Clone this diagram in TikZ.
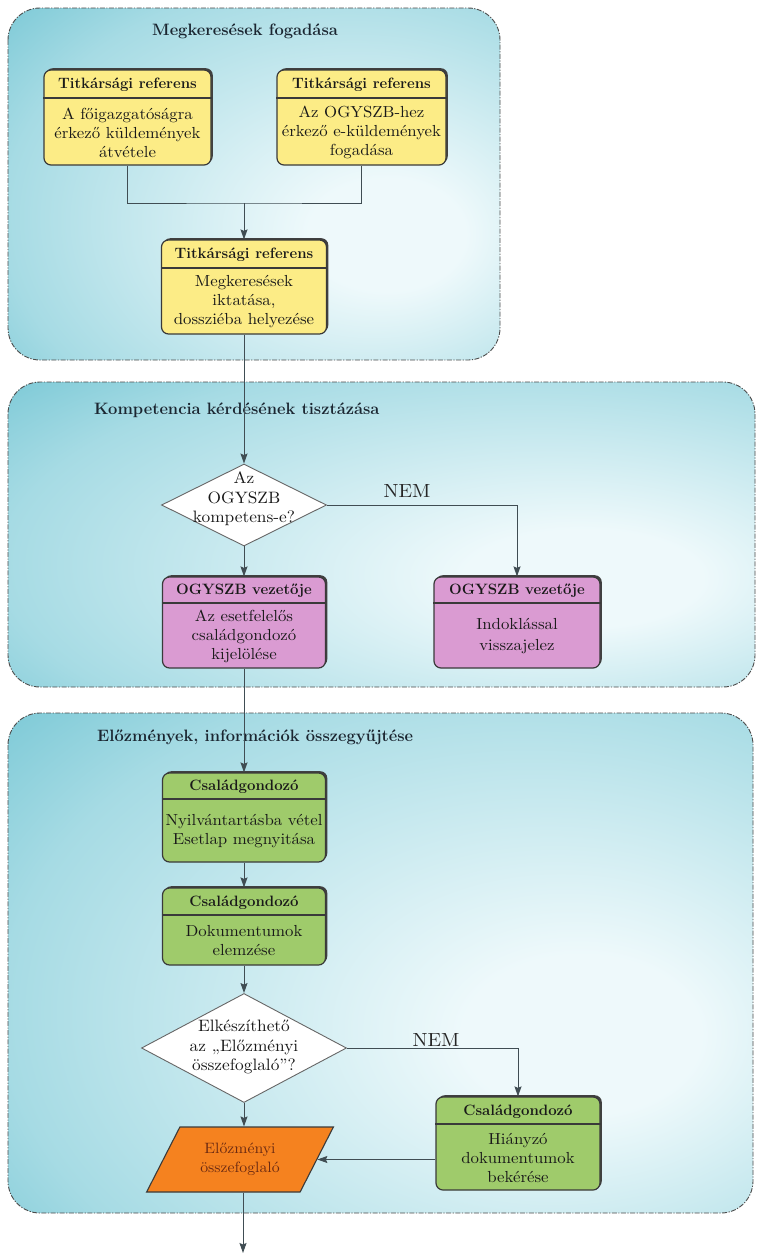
\documentclass[tikz,border=0pt]{standalone}
\usepackage{fontspec}
\newfontfamily\bodyfont{lmroman10-regular.otf}[FakeStretch=1.05]
\usetikzlibrary{shapes.geometric,shadows,arrows.meta,calc}
\definecolor{secin}{HTML}{EEF9FB}
\definecolor{secmid}{HTML}{A6DBE4}
\definecolor{secout}{HTML}{57B9CA}
\definecolor{yel}{HTML}{FCEC86}
\definecolor{pnk}{HTML}{DA9BD2}
\definecolor{grn}{HTML}{9FCB6B}
\definecolor{org}{HTML}{F5821F}
\definecolor{edge}{HTML}{3A3A3A}
\definecolor{conn}{HTML}{404D53}
\definecolor{ttl}{HTML}{1B2631}
\definecolor{orgtxt}{HTML}{6B2A12}
\pgfdeclareradialshading{secshade}{\pgfpoint{15bp}{-8bp}}{color(0bp)=(secin); color(8bp)=(secin); color(34bp)=(secmid); color(52bp)=(secout); color(80bp)=(secout)}
\newcommand\pbox[9]{%
  \pgfmathsetmacro\bxh{#6-#4}%
  \node[pboxsty, fill=#7, minimum width=#3pt, minimum height=\bxh pt] (#1) at (#2,{(#4+#6)/2}) {};
  \draw[divline] (#1.west |- 0,#5) -- (#1.east |- 0,#5);
  \node[hdr] (#1-h) at (#2,{(#4+#5)/2+1}) {#8};
  \node[bdy] (#1-b) at (#2,{(#5+#6)/2+1}) {#9};
}
\begin{document}
\begin{tikzpicture}[x=1pt,y=-1pt,
  section/.style={rounded corners=32pt, shading=secshade, draw=black!70, line width=0.9pt,
    dash pattern=on 5pt off 1.5pt on 1.2pt off 1.5pt},
  sectitle/.style={font=\bfseries\fontsize{16.5}{19}\selectfont, text=ttl, inner sep=0pt},
  pboxsty/.style={draw=edge, line width=1.2pt, rounded corners=7pt, inner sep=0pt,
    general shadow={fill=black!75, shadow xshift=1.8pt, shadow yshift=1.8pt}},
  divline/.style={draw=edge, line width=1.1pt},
  hdr/.style={font=\bfseries\fontsize{15}{17}\selectfont, text=black!90, inner sep=0pt},
  bdy/.style={font=\bodyfont\fontsize{16}{19}\selectfont, text=black!90, align=center, inner sep=0pt},
  diatxt/.style={bdy, font=\bodyfont\fontsize{16.5}{19.5}\selectfont},
  dia/.style={shape=diamond, draw=black!60, fill=white, line width=0.9pt, inner sep=0pt},
  para/.style={shape=trapezium, trapezium left angle=56, trapezium right angle=124,
    trapezium stretches=true, draw=edge, line width=1.1pt, fill=org, inner sep=0pt,
    font=\bodyfont\fontsize{15}{19}\selectfont, text=orgtxt, align=center},
  nemsty/.style={font=\bodyfont\fontsize{19}{21}\selectfont, text=black!85, inner sep=0pt},
  conn/.style={draw=conn, line width=1pt},
  arr/.style={conn, -{Stealth[length=10pt,width=7pt,inset=1.5pt]}}
]
\fill[white] (0,0) rectangle (759,1254);
\useasboundingbox (0,0) rectangle (759,1254);

% sections
\shadedraw[section] (8,8) rectangle (500,360);
\shadedraw[section] (8,382) rectangle (755,687);
\shadedraw[section] (8,713) rectangle (753,1213);

\node[sectitle] (t1) at (245,31) {Megkeresések fogadása};
\node[sectitle, anchor=west] (t2) at (94,410) {Kompetencia kérdésének tisztázása};
\node[sectitle, anchor=west] (t3) at (97,737) {Előzmények, információk összegyűjtése};

% section 1
\pbox{b1}{127.5}{167}{70}{98}{165}{yel}{Titkársági referens}{A főigazgatóságra\\érkező küldemények\\átvétele}
\pbox{b2}{361.5}{169}{70}{98}{165}{yel}{Titkársági referens}{Az OGYSZB-hez\\érkező e-küldemények\\fogadása}
\pbox{b3}{244}{165}{240}{268}{334}{yel}{Titkársági referens}{Megkeresések\\iktatása,\\dossziéba helyezése}

% section 2
\node[dia, minimum width=165pt, minimum height=82pt] (d1) at (244,505) {};
\node[diatxt] (d1-t) at (244,499) {Az\\OGYSZB\\kompetens-e?};
\pbox{b4}{244}{163}{577}{603}{668}{pnk}{OGYSZB vezetője}{Az esetfelelős\\családgondozó\\kijelölése}
\pbox{b5}{517}{166}{577}{603}{668}{pnk}{OGYSZB vezetője}{Indoklással\\[2pt]visszajelez}
\node[nemsty] (nem1) at (407,491) {NEM};

% section 3
\pbox{b6}{244}{163}{773}{799}{862}{grn}{Családgondozó}{Nyilvántartásba vétel\\Esetlap megnyitása}
\pbox{b7}{244}{163}{888}{915}{965}{grn}{Családgondozó}{Dokumentumok\\elemzése}
\node[dia, minimum width=205pt, minimum height=109pt] (d2) at (244,1048) {};
\node[diatxt] (d2-t) at (244,1047) {Elkészíthető\\az „Előzményi\\összefoglaló”?};
\pbox{b8}{518}{164}{1097}{1124}{1190}{grn}{Családgondozó}{Hiányzó\\dokumentumok\\bekérése}
\node[nemsty] (nem2) at (436,1040) {NEM};
\node[para, minimum width=187pt, minimum height=65pt] (par) at (240,1159.5) {Előzményi\\összefoglaló};
\coordinate (j) at (244,203);
\coordinate (out) at (243,1253);

% connectors
\draw[conn] (b1.south) |- (j) -| (b2.south);
\draw[arr] (j) -- (b3.north);
\draw[arr] (b3.south) -- (d1.north);
\draw[arr] (d1.south) -- (b4.north);
\draw[arr] (d1.east) -| (b5.north);
\draw[arr] (b4.south) -- (b6.north);
\draw[arr] (b6.south) -- (b7.north);
\draw[arr] (b7.south) -- (d2.north);
\draw[arr] (d2.east) -| (b8.north);
\draw[arr] (d2.south) -- (d2.south |- par.north);
\draw[arr] (b8.west |- par.east) -- (par.east);
\draw[arr] (par.south -| out) -- (out);
\end{tikzpicture}
\end{document}
